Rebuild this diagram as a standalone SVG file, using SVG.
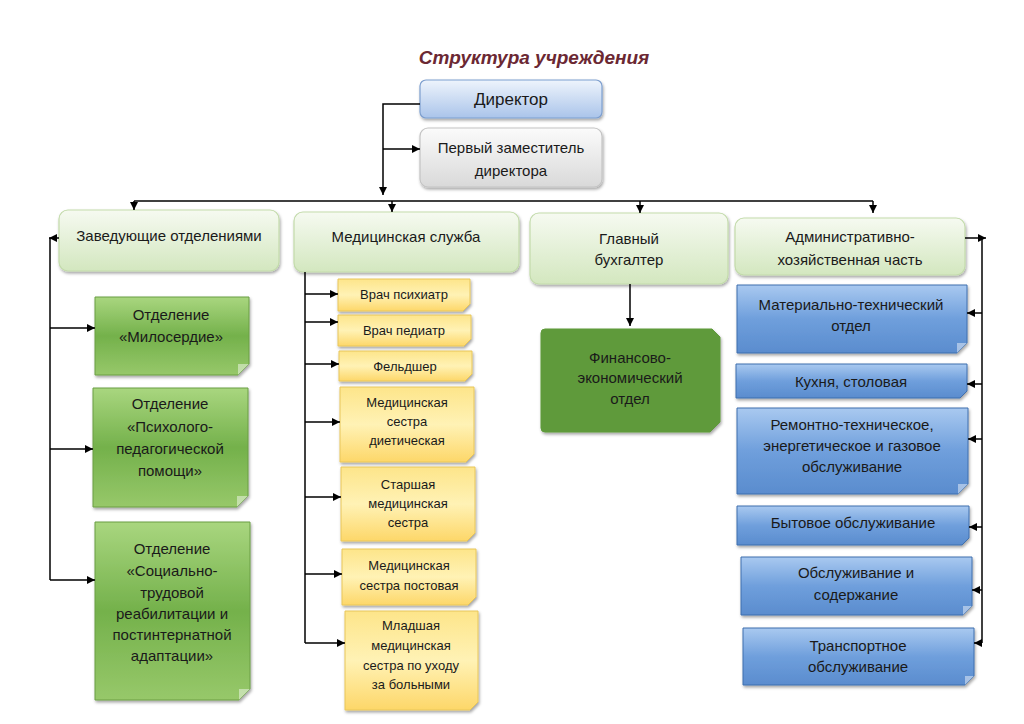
<svg xmlns="http://www.w3.org/2000/svg" width="1024" height="724" viewBox="0 0 1024 724">
<defs>
<linearGradient id="gDir" x1="0" y1="0" x2="0" y2="1"><stop offset="0" stop-color="#eef4fc"/><stop offset="1" stop-color="#aac4ea"/></linearGradient>
<linearGradient id="gDep" x1="0" y1="0" x2="0" y2="1"><stop offset="0" stop-color="#fbfbfb"/><stop offset="1" stop-color="#d9d9d9"/></linearGradient>
<linearGradient id="gLg" x1="0" y1="0" x2="0" y2="1"><stop offset="0" stop-color="#f6faf1"/><stop offset="1" stop-color="#d3e7bf"/></linearGradient>
<linearGradient id="gGr" x1="0" y1="0" x2="0" y2="1"><stop offset="0" stop-color="#a9d67f"/><stop offset="0.5" stop-color="#74b14b"/><stop offset="1" stop-color="#97c86a"/></linearGradient>
<linearGradient id="gYe" x1="0" y1="0" x2="0" y2="1"><stop offset="0" stop-color="#fde58a"/><stop offset="0.5" stop-color="#fff2b5"/><stop offset="1" stop-color="#fdd769"/></linearGradient>
<linearGradient id="gBl" x1="0" y1="0" x2="0" y2="1"><stop offset="0" stop-color="#a9c9f0"/><stop offset="0.5" stop-color="#6f9fdc"/><stop offset="1" stop-color="#5a8cce"/></linearGradient>
<filter id="sh" x="-10%" y="-10%" width="130%" height="140%"><feDropShadow dx="1" dy="2" stdDeviation="1.5" flood-color="#000" flood-opacity="0.35"/></filter>
<marker id="ar" viewBox="0 0 10 10" refX="10" refY="5" markerWidth="8" markerHeight="8" markerUnits="userSpaceOnUse" orient="auto"><path d="M0,0 L10,5 L0,10 Z" fill="#000"/></marker>
</defs>
<style>
text{font-family:"Liberation Sans",Arial,sans-serif;fill:#1a1a1a;text-anchor:middle}
.t15{font-size:15px}
.t13{font-size:13px}
.dir{fill:url(#gDir);stroke:#7d9fcf;stroke-width:1.2;filter:url(#sh)}
.dep{fill:url(#gDep);stroke:#c4c4c4;stroke-width:1.2;filter:url(#sh)}
.lg{fill:url(#gLg);stroke:#c3dbab;stroke-width:1.2;filter:url(#sh)}
.gr{fill:url(#gGr);stroke:#6a9e45;stroke-width:1;filter:url(#sh)}
.ye{fill:url(#gYe);stroke:#e8c65a;stroke-width:1;filter:url(#sh)}
.bl{fill:url(#gBl);stroke:#3f6fae;stroke-width:1;filter:url(#sh)}
.fg{fill:#5e9a3a;stroke:#5e9a3a;filter:url(#sh)}
.fold{fill:#ffffff;opacity:0.45}
.ln{fill:none;stroke:#000;stroke-width:1.5}
</style>

<text x="534" y="64" style="font-size:19px;font-weight:bold;font-style:italic;fill:#6b2833">Структура учреждения</text>

<g id="director"><rect class="dir" x="420" y="80" width="182" height="38" rx="6"/><text class="t15" x="511" y="105" style="font-size:17px">Директор</text></g>
<g id="deputy"><rect class="dep" x="420" y="128" width="182" height="59" rx="8"/><text class="t15" x="511" y="153">Первый заместитель</text><text class="t15" x="511" y="176">директора</text></g>

<g id="head-depts"><rect class="lg" x="59" y="210" width="220" height="61" rx="9"/><text class="t15" x="169" y="241">Заведующие отделениями</text></g>
<g id="med-service"><rect class="lg" x="294" y="212" width="225" height="60" rx="9"/><text class="t15" x="406" y="242">Медицинская служба</text></g>
<g id="chief-acc"><rect class="lg" x="530" y="213" width="198" height="71" rx="9"/><text class="t15" x="629" y="244">Главный</text><text class="t15" x="629" y="265">бухгалтер</text></g>
<g id="admin"><rect class="lg" x="735" y="218" width="230" height="57" rx="9"/><text class="t15" x="850" y="242">Административно-</text><text class="t15" x="850" y="265">хозяйственная часть</text></g>

<g id="dept-miloserdie"><path class="gr" d="M95,297 H249 V364 L238,375 H95 Z"/><path class="fold" d="M249,364 L238,375 L238,364 Z"/><text class="t15" x="171" y="320">Отделение</text><text class="t15" x="171" y="342">«Милосердие»</text></g>
<g id="dept-psych"><path class="gr" d="M93,388 H248 V496 L237,507 H93 Z"/><path class="fold" d="M248,496 L237,507 L237,496 Z"/><text class="t15" x="170" y="409">Отделение</text><text class="t15" x="170" y="432">«Психолого-</text><text class="t15" x="170" y="454">педагогической</text><text class="t15" x="170" y="476">помощи»</text></g>
<g id="dept-social"><path class="gr" d="M95,522 H250 V689 L239,700 H95 Z"/><path class="fold" d="M250,689 L239,700 L239,689 Z"/><text class="t15" x="172" y="554">Отделение</text><text class="t15" x="172" y="576">«Социально-</text><text class="t15" x="172" y="598">трудовой</text><text class="t15" x="172" y="619">реабилитации и</text><text class="t15" x="172" y="640">постинтернатной</text><text class="t15" x="172" y="661">адаптации»</text></g>

<g id="psychiatrist"><path class="ye" d="M338,279 H470 V304 L463,311 H338 Z"/><text class="t13" x="404" y="299">Врач психиатр</text></g>
<g id="pediatrician"><path class="ye" d="M338,315 H471 V339 L464,346 H338 Z"/><text class="t13" x="404" y="335">Врач педиатр</text></g>
<g id="feldsher"><path class="ye" d="M339,351 H472 V374 L465,381 H339 Z"/><text class="t13" x="405" y="371">Фельдшер</text></g>
<g id="nurse-diet"><path class="ye" d="M340,387 H474 V454 L466,462 H340 Z"/><text class="t13" x="407" y="407">Медицинская</text><text class="t13" x="407" y="426">сестра</text><text class="t13" x="407" y="445">диетическая</text></g>
<g id="nurse-senior"><path class="ye" d="M341,467 H475 V533 L467,541 H341 Z"/><text class="t13" x="408" y="489">Старшая</text><text class="t13" x="408" y="508">медицинская</text><text class="t13" x="408" y="527">сестра</text></g>
<g id="nurse-post"><path class="ye" d="M342,549 H476 V597 L468,605 H342 Z"/><text class="t13" x="409" y="570">Медицинская</text><text class="t13" x="409" y="590">сестра постовая</text></g>
<g id="nurse-junior"><path class="ye" d="M345,611 H478 V702 L470,710 H345 Z"/><text class="t13" x="411" y="630">Младшая</text><text class="t13" x="411" y="650">медицинская</text><text class="t13" x="411" y="670">сестра по уходу</text><text class="t13" x="411" y="689">за больными</text></g>

<g id="fin-dept"><path class="fg" d="M545,329 H712 L720,337 V422 L710,432 H545 Q541,432 541,428 V333 Q541,329 545,329 Z"/><text class="t15" x="630" y="363">Финансово-</text><text class="t15" x="630" y="383">экономический</text><text class="t15" x="630" y="404">отдел</text></g>

<g id="mat-tech"><path class="bl" d="M737,285 H967 V343 L957,353 H737 Z"/><path class="fold" d="M967,343 L957,353 L957,343 Z"/><text class="t15" x="851" y="310">Материально-технический</text><text class="t15" x="851" y="331">отдел</text></g>
<g id="kitchen"><path class="bl" d="M736,364 H967 V391 L960,398 H736 Z"/><text class="t15" x="851" y="387">Кухня, столовая</text></g>
<g id="repair"><path class="bl" d="M737,408 H968 V484 L958,494 H737 Z"/><path class="fold" d="M968,484 L958,494 L958,484 Z"/><text class="t15" x="852" y="430">Ремонтно-техническое,</text><text class="t15" x="852" y="451">энергетическое и газовое</text><text class="t15" x="852" y="472">обслуживание</text></g>
<g id="household"><path class="bl" d="M737,506 H969 V538 L962,545 H737 Z"/><text class="t15" x="853" y="528">Бытовое обслуживание</text></g>
<g id="maintenance"><path class="bl" d="M741,557 H972 V606 L963,615 H741 Z"/><path class="fold" d="M972,606 L963,615 L963,606 Z"/><text class="t15" x="856" y="578">Обслуживание и</text><text class="t15" x="856" y="600">содержание</text></g>
<g id="transport"><path class="bl" d="M743,628 H974 V676 L965,685 H743 Z"/><path class="fold" d="M974,676 L965,685 L965,676 Z"/><text class="t15" x="858" y="651">Транспортное</text><text class="t15" x="858" y="672">обслуживание</text></g>

<g id="connectors">
<path class="ln" d="M420,104 H383 V195" marker-end="url(#ar)"/>
<path class="ln" d="M383,149 H420" marker-end="url(#ar)"/>
<path class="ln" d="M134,201 H873"/>
<path class="ln" d="M134,201 V210" marker-end="url(#ar)"/>
<path class="ln" d="M392,201 V212" marker-end="url(#ar)"/>
<path class="ln" d="M640,201 V213" marker-end="url(#ar)"/>
<path class="ln" d="M873,201 V213" marker-end="url(#ar)"/>
<path class="ln" d="M59,238 H49" marker-end="url(#ar)"/>
<path class="ln" d="M50,238 V580"/>
<path class="ln" d="M50,328 H95" marker-end="url(#ar)"/>
<path class="ln" d="M50,449 H93" marker-end="url(#ar)"/>
<path class="ln" d="M50,580 H95" marker-end="url(#ar)"/>
<path class="ln" d="M305,272 V643"/>
<path class="ln" d="M305,294 H338" marker-end="url(#ar)"/>
<path class="ln" d="M305,322 H338" marker-end="url(#ar)"/>
<path class="ln" d="M305,364 H339" marker-end="url(#ar)"/>
<path class="ln" d="M305,422 H340" marker-end="url(#ar)"/>
<path class="ln" d="M305,497 H341" marker-end="url(#ar)"/>
<path class="ln" d="M305,574 H342" marker-end="url(#ar)"/>
<path class="ln" d="M305,643 H345" marker-end="url(#ar)"/>
<path class="ln" d="M630,284 V326" marker-end="url(#ar)"/>
<path class="ln" d="M965,238 H986" marker-end="url(#ar)"/>
<path class="ln" d="M982,238 V643"/>
<path class="ln" d="M982,313 H967" marker-end="url(#ar)"/>
<path class="ln" d="M982,384 H967" marker-end="url(#ar)"/>
<path class="ln" d="M982,439 H968" marker-end="url(#ar)"/>
<path class="ln" d="M982,527 H969" marker-end="url(#ar)"/>
<path class="ln" d="M982,590 H972" marker-end="url(#ar)"/>
<path class="ln" d="M982,643 H974" marker-end="url(#ar)"/>
</g>
</svg>
